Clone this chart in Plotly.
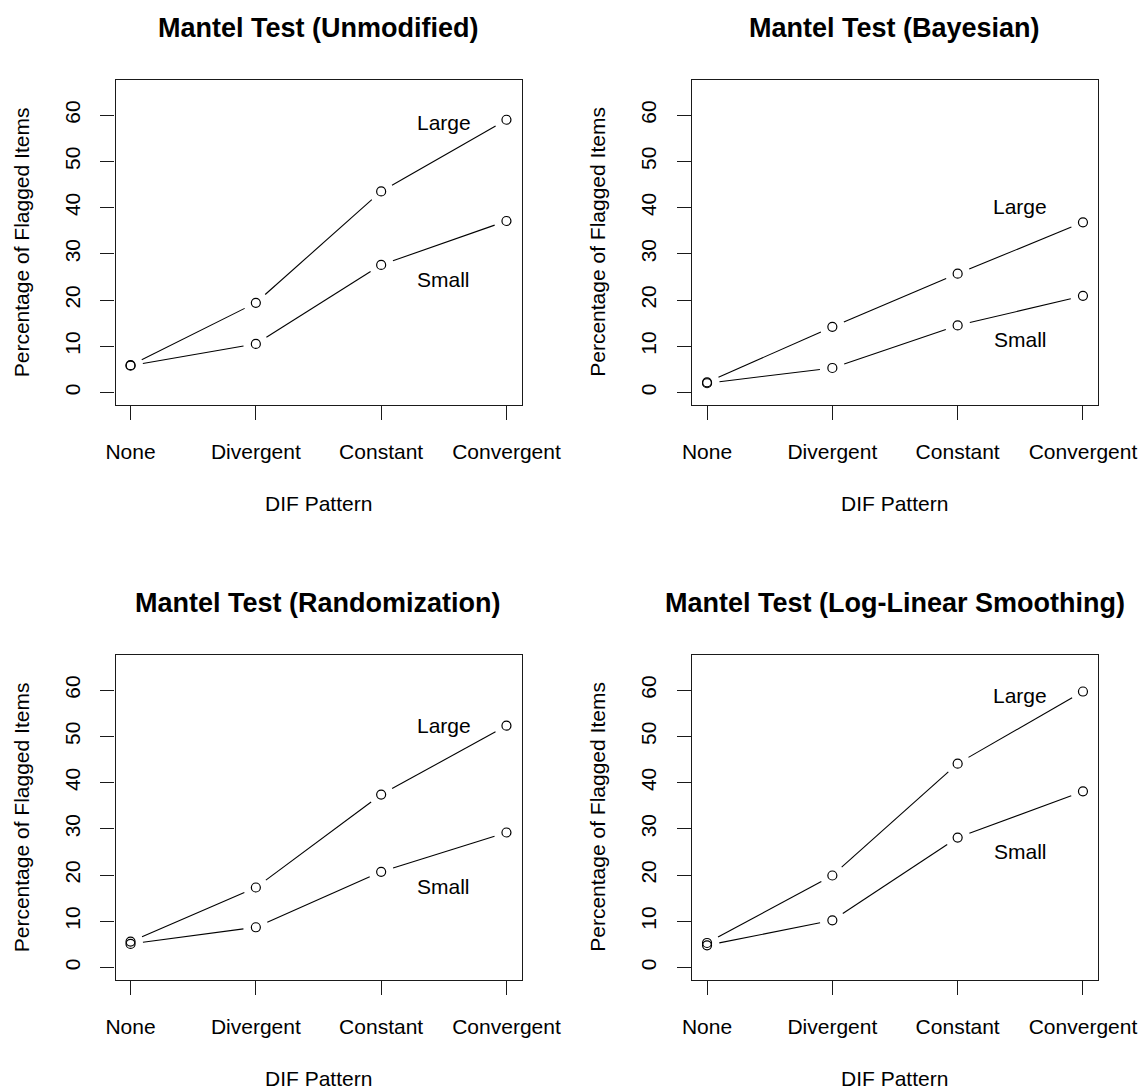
import math
import plotly.graph_objects as go

# ---- data -------------------------------------------------------------
categories = ["None", "Divergent", "Constant", "Convergent"]
x_pos = [1, 2, 3, 4]
y_ticks = [0, 10, 20, 30, 40, 50, 60]

titles = [
    "Mantel Test (Unmodified)",
    "Mantel Test (Bayesian)",
    "Mantel Test (Randomization)",
    "Mantel Test (Log-Linear Smoothing)",
]

unmod_large = [5.9, 19.4, 43.5, 59.0]
unmod_small = [5.8, 10.5, 27.6, 37.1]
bayes_large = [2.2, 14.2, 25.7, 36.8]
bayes_small = [2.0, 5.3, 14.5, 20.9]
rand_large = [5.6, 17.3, 37.4, 52.3]
rand_small = [5.1, 8.7, 20.7, 29.2]
loglin_large = [5.3, 19.9, 44.1, 59.7]
loglin_small = [4.8, 10.2, 28.1, 38.1]

# where the "Large" / "Small" labels sit in each panel (data units)
label_x = 3.5
large_label_y = [58.4, 40.3, 52.4, 58.8]
small_label_y = [24.5, 11.4, 17.6, 25.0]

series = [
    (unmod_large, unmod_small),
    (bayes_large, bayes_small),
    (rand_large, rand_small),
    (loglin_large, loglin_small),
]

# ---- page geometry (pixels) ---------------------------------------------
W, H = 1144, 1091
col_px = [(115.5, 521.5), (692.0, 1098.0)]
row_px = [(80.0, 404.5), (655.0, 979.5)]
X_RANGE = [0.88, 4.12]
Y_RANGE = [-2.6, 67.6]
GAP = 12.5  # px left open around each point, like R's type = "b"
FONT = "Liberation Sans, Arial, sans-serif"
AX_SIZE = 21
TITLE_SIZE = 27


def px_x(x):
    return x / W


def px_y(y):
    return 1 - y / H


def gapped_segments(xs, ys, sx, sy):
    """Line pieces between consecutive points, trimmed by GAP px at each end."""
    out_x, out_y = [], []
    for (xa, ya), (xb, yb) in zip(zip(xs, ys), zip(xs[1:], ys[1:])):
        dx, dy = (xb - xa) * sx, (yb - ya) * sy
        length = math.hypot(dx, dy)
        if length <= 2 * GAP:
            continue
        t = GAP / length
        out_x += [xa + t * (xb - xa), xb - t * (xb - xa), None]
        out_y += [ya + t * (yb - ya), yb - t * (yb - ya), None]
    return out_x, out_y


fig = go.Figure()
annotations = []

for i, (large, small) in enumerate(series):
    r, c = divmod(i, 2)
    n = i + 1
    xa = "x" if n == 1 else f"x{n}"
    ya = "y" if n == 1 else f"y{n}"
    (x0, x1), (y0, y1) = col_px[c], row_px[r]
    sx = (x1 - x0) / (X_RANGE[1] - X_RANGE[0])
    sy = (y1 - y0) / (Y_RANGE[1] - Y_RANGE[0])

    for vals in (large, small):
        lx, ly = gapped_segments(x_pos, vals, sx, sy)
        fig.add_trace(go.Scatter(
            x=lx, y=ly, xaxis=xa, yaxis=ya, mode="lines",
            line=dict(color="black", width=1.1), hoverinfo="skip",
            connectgaps=False, showlegend=False))
        fig.add_trace(go.Scatter(
            x=x_pos, y=vals, xaxis=xa, yaxis=ya, mode="markers",
            marker=dict(symbol="circle-open", size=9, color="black",
                        line=dict(width=1.2)),
            showlegend=False))

    axis_common = dict(
        showline=True, mirror=True, linecolor="#1a1a1a", linewidth=1.3,
        ticks="outside", ticklen=14, tickwidth=1.2, tickcolor="#1a1a1a",
        showgrid=False, zeroline=False, automargin=False,
        tickfont=dict(family=FONT, size=AX_SIZE, color="black"),
    )
    fig.layout[f"xaxis{'' if n == 1 else n}"] = dict(
        axis_common, domain=[px_x(x0), px_x(x1)], anchor=ya,
        range=X_RANGE, tickvals=x_pos, ticktext=categories,
        ticklabelstandoff=14,
    )
    fig.layout[f"yaxis{'' if n == 1 else n}"] = dict(
        axis_common, domain=[px_y(y1), px_y(y0)], anchor=xa,
        range=Y_RANGE, tickvals=y_ticks,
        ticktext=[str(v) for v in y_ticks], tickangle=-90,
        ticklabelstandoff=12,
    )

    cx = (x0 + x1) / 2
    cy = (y0 + y1) / 2
    row_shift = r * 575
    # panel title
    annotations.append(dict(
        x=px_x(cx), y=px_y(28 + row_shift), xref="paper", yref="paper",
        text=f"<b>{titles[i]}</b>", showarrow=False,
        xanchor="center", yanchor="middle",
        font=dict(family=FONT, size=TITLE_SIZE, color="black")))
    # axis titles
    annotations.append(dict(
        x=px_x(cx), y=px_y(503 + row_shift), xref="paper", yref="paper",
        text="DIF Pattern", showarrow=False,
        xanchor="center", yanchor="middle",
        font=dict(family=FONT, size=AX_SIZE, color="black")))
    annotations.append(dict(
        x=px_x(21 + c * 576.5), y=px_y(cy), xref="paper", yref="paper",
        text="Percentage of Flagged Items", showarrow=False, textangle=-90,
        xanchor="center", yanchor="middle",
        font=dict(family=FONT, size=AX_SIZE, color="black")))
    # series labels
    for txt, ly in (("Large", large_label_y[i]), ("Small", small_label_y[i])):
        annotations.append(dict(
            x=label_x, y=ly, xref=xa, yref=ya, text=txt, showarrow=False,
            xanchor="center", yanchor="middle",
            font=dict(family=FONT, size=AX_SIZE, color="black")))

fig.update_layout(
    template="none",
    width=W, height=H,
    margin=dict(l=0, r=0, t=0, b=0, pad=0),
    paper_bgcolor="white", plot_bgcolor="white",
    annotations=annotations,
    showlegend=False,
)

fig.write_html("out.html")
